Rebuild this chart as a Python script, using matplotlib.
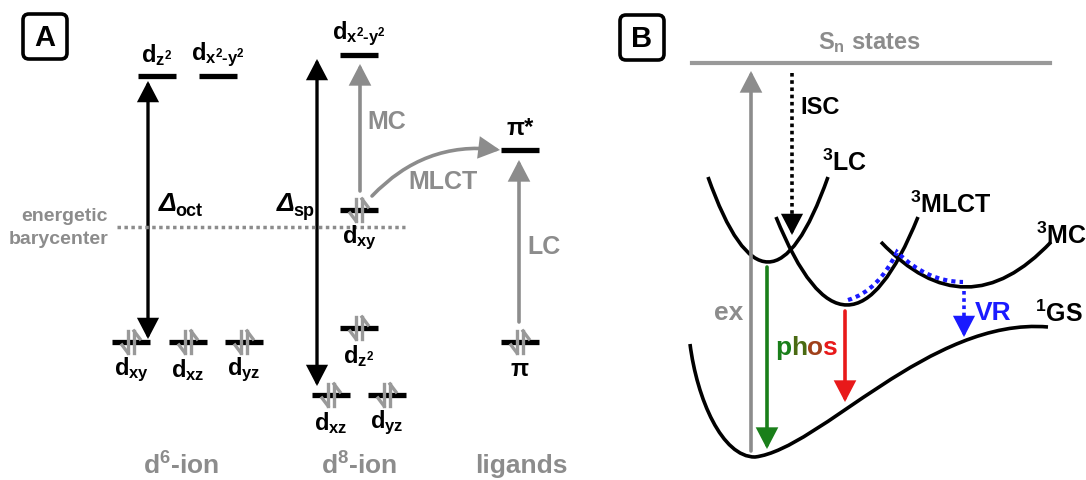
import numpy as np
import matplotlib.pyplot as plt
from matplotlib.patches import FancyArrowPatch, FancyBboxPatch, PathPatch, ArrowStyle
from matplotlib.path import Path

plt.rcParams['font.family'] = 'Liberation Sans'
plt.rcParams['font.weight'] = 'bold'
plt.rcParams['mathtext.fontset'] = 'custom'
plt.rcParams['mathtext.rm'] = 'Liberation Sans:bold'
plt.rcParams['mathtext.it'] = 'Liberation Sans:bold:italic'
plt.rcParams['mathtext.bf'] = 'Liberation Sans:bold'
plt.rcParams['mathtext.default'] = 'rm'

GRAY = '#8c8c8c'
GREEN = '#1a7f1a'
RED = '#e8191a'
BLUE = '#1a1aff'

"""Panel A - orbital levels (pixel coords, y down)"""
orb_labels = [r'$d_{z^2}$', r'$d_{x^2\text{-}y^2}$', r'$d_{xy}$', r'$d_{xz}$', r'$d_{yz}$',
              r'$d_{x^2\text{-}y^2}$', r'$d_{xy}$', r'$d_{z^2}$', r'$d_{xz}$', r'$d_{yz}$',
              'π*', 'π']
orb_x = [157, 218, 131, 188, 244, 359, 359, 359, 331, 387, 520, 520]
orb_y = [77, 77, 343, 343, 343, 56, 211, 329, 396, 396, 151, 343]
orb_filled = [0, 0, 1, 1, 1, 0, 1, 1, 1, 1, 0, 1]
orb_above = [1, 1, 0, 0, 0, 1, 0, 0, 0, 0, 1, 0]
ion_names = [r'd$^{6}$-ion', r'd$^{8}$-ion', 'ligands']
ion_x = [181, 359, 521]

"""Panel B - potential wells: left end x, vertex x, vertex y, end y"""
well_names = [r'$^{3}$LC', r'$^{3}$MLCT', r'$^{3}$MC']
well_left = [708, 776, 881]
well_vx = [768, 847, 966]
well_vy = [263, 306, 288]
well_top = [178, 218, 243]
well_label_pos = [(822, 163), (910, 205), (1036, 236)]
# ground state curve (bezier control points)
gs_pts = [(690, 345), (697, 400), (722, 458), (755, 458),
          (820, 450), (930, 318), (1048, 328)]

fig = plt.figure(figsize=(10.86, 4.81), dpi=100)
ax = fig.add_axes([0, 0, 1, 1])
ax.set_xlim(0, 1086)
ax.set_ylim(481, 0)
ax.axis('off')


def arrow(p0, p1, color, lw=2.4, style='-|>', conn=None, ls='-'):
    st = ArrowStyle(style, head_length=1.15, head_width=0.6)
    kw = dict(arrowstyle=st, mutation_scale=10, lw=lw, color=color,
              shrinkA=0, shrinkB=0, joinstyle='miter', linestyle=ls)
    if conn:
        kw['connectionstyle'] = conn
    a = FancyArrowPatch(p0, p1, **kw)
    ax.add_patch(a)


def electrons(x, y):
    c = '#999999'
    ax.plot([x - 3, x - 3], [y - 11, y + 11], color=c, lw=2.4)
    ax.plot([x - 3, x - 9], [y + 11, y + 3], color=c, lw=2.4)
    ax.plot([x + 3, x + 3], [y + 11, y - 11], color=c, lw=2.4)
    ax.plot([x + 3, x + 9], [y - 11, y - 3], color=c, lw=2.4)


def box(x, y, letter):
    ax.add_patch(FancyBboxPatch((x, y), 44, 45, boxstyle='round,pad=0,rounding_size=6',
                                lw=2.6, fill=False, ec='k'))
    ax.text(x + 22, y + 23, letter, fontsize=21, ha='center', va='center')


box(23, 15, 'A')
box(620, 16, 'B')

# panel A
ax.plot([117, 405], [228, 228], color=GRAY, lw=2.5, ls=(0, (1, 1)))
ax.text(108, 217, 'energetic', color=GRAY, fontsize=14, ha='right', va='center')
ax.text(108, 240, 'barycenter', color=GRAY, fontsize=14, ha='right', va='center')

for lab, x, y, f, up in zip(orb_labels, orb_x, orb_y, orb_filled, orb_above):
    ax.plot([x - 19, x + 19], [y, y], color='k', lw=3.8, solid_capstyle='butt')
    if f:
        electrons(x, y)
    if up:
        ax.text(x, y - 22, lab, fontsize=17, ha='center', va='center')
    else:
        ax.text(x, y + 27, lab, fontsize=17, ha='center', va='center')

for lab, x in zip(ion_names, ion_x):
    ax.text(x, 466, lab, color=GRAY, fontsize=19, ha='center', va='center')

arrow((148, 340), (148, 82), 'k', style='<|-|>')
arrow((317, 387), (317, 60), 'k', style='<|-|>')
ax.text(159, 204, 'Δ', fontsize=19, style='italic', ha='left', va='center')
ax.text(175, 212, 'oct', fontsize=13, ha='left', va='center')
ax.text(277, 204, 'Δ', fontsize=19, style='italic', ha='left', va='center')
ax.text(293, 212, 'sp', fontsize=13, ha='left', va='center')

arrow((360, 192), (360, 65), GRAY, lw=2.6)
ax.text(367, 122, 'MC', color=GRAY, fontsize=18, ha='left', va='center')
arrow((372, 197), (500, 151), GRAY, lw=2.6, conn='arc3,rad=-0.25')
ax.text(408, 182, 'MLCT', color=GRAY, fontsize=18, ha='left', va='center')
arrow((519, 323), (519, 161), GRAY, lw=2.6)
ax.text(527, 247, 'LC', color=GRAY, fontsize=18, ha='left', va='center')

# panel B
ax.plot([692, 1050], [64, 64], color='#999999', lw=3)
ax.text(869, 43, r'S$_{\mathrm{n}}$ states', color=GRAY, fontsize=17, ha='center', va='center')

for lab, l, vx, vy, top, pos in zip(well_names, well_left, well_vx, well_vy, well_top, well_label_pos):
    r = 2 * vx - l
    verts = [(l, top), (vx, 2 * vy - top), (r, top)]
    ax.add_patch(PathPatch(Path(verts, [Path.MOVETO, Path.CURVE3, Path.CURVE3]),
                           fill=False, lw=2.6, ec='k'))
    ax.text(pos[0], pos[1], lab, fontsize=18, ha='left', va='center')

codes = [Path.MOVETO] + [Path.CURVE4] * 6
ax.add_patch(PathPatch(Path(gs_pts, codes), fill=False, lw=2.6, ec='k'))
ax.text(1035, 314, r'$^{1}$GS', fontsize=18, ha='left', va='center')

# blue dotted VR path
vr_path = Path([(848, 301), (878, 292), (897, 253), (927, 283), (963, 283)],
               [Path.MOVETO, Path.CURVE3, Path.CURVE3, Path.CURVE3, Path.CURVE3])
ax.add_patch(PathPatch(vr_path, fill=False, lw=3, ec=BLUE, ls=(0, (1, 1))))
ax.plot([964, 964], [292, 322], color=BLUE, lw=2.6, ls=(0, (1, 1)))
arrow((964, 320), (964, 338), BLUE)
ax.text(975, 313, 'VR', color=BLUE, fontsize=19, ha='left', va='center')

arrow((751, 452), (751, 72), GRAY, lw=2.6)
ax.text(743, 313, 'ex', color=GRAY, fontsize=19, ha='right', va='center')

ax.plot([792, 792], [74, 220], color='k', lw=2.6, ls=(0, (1, 1)))
arrow((792, 218), (792, 236), 'k')
ax.text(800, 108, 'ISC', fontsize=17, ha='left', va='center')

arrow((767, 268), (767, 450), GREEN, lw=2.6)
arrow((845, 312), (845, 403), RED, lw=2.6)

phos_letters = ['p', 'h', 'o', 's']
phos_colors = [GREEN, '#4a6a12', '#a0401a', RED]
xx = 775
for ch, c in zip(phos_letters, phos_colors):
    t = ax.text(xx, 348, ch, color=c, fontsize=19, ha='left', va='center')
    xx += 15.8

fig.savefig('out.png', dpi=100)
